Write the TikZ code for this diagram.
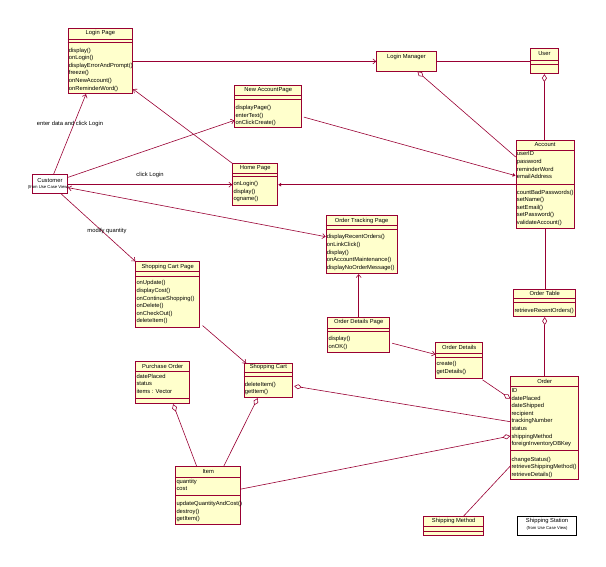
\documentclass[tikz,border=0pt]{standalone}
\usepackage{fontspec}
\setmainfont{Liberation Sans}
\usepackage{xcolor}
\usepackage{tikz}
\usetikzlibrary{arrows.meta,positioning,calc}

\definecolor{roseline}{RGB}{153,0,51}
\definecolor{rosefill}{RGB}{255,255,204}

\tikzset{
  classbox/.style={draw=roseline, fill=rosefill, line width=0.8pt, anchor=north west, inner sep=0pt},
  actorbox/.style={draw=roseline, fill=white, line width=0.8pt, anchor=north west, inner sep=0pt},
  stationbox/.style={draw=black, fill=white, line width=0.6pt, anchor=north west, inner sep=0pt},
  classtitle/.style={inner sep=0pt, font=\fontsize{5.8}{7}\selectfont},
  fromnote/.style={inner sep=0pt, font=\fontsize{4.2}{5}\selectfont},
  members/.style={anchor=north west, align=left, inner sep=0pt, font=\fontsize{5.8}{7.6}\selectfont},
  compline/.style={draw=roseline, line width=0.8pt},
  edgelabel/.style={inner sep=0pt, font=\fontsize{5.8}{7}\selectfont},
  assoc/.style={draw=roseline, line width=0.6pt},
  nav/.style={assoc, -{Straight Barb[length=3pt,width=5pt]}},
  navboth/.style={assoc, {Straight Barb[length=3pt,width=5pt]}-{Straight Barb[length=3pt,width=5pt]}},
  navfill/.style={assoc, -{Latex[length=3pt,width=4pt]}},
  aggr/.style={assoc, {Diamond[fill=white,length=8pt,width=5pt]}-},
  aggrend/.style={assoc, -{Diamond[fill=white,length=8pt,width=5pt]}}
}

\newcommand{\umlclass}[5]{\node[classbox, minimum width=#4pt, minimum height=#5pt] (#1) at (#2,#3) {};}
\newcommand{\umltitle}[3]{\node[classtitle] at ([yshift=-#2pt]#1.north) {#3};}
\newcommand{\umlsep}[2]{\draw[compline] ([yshift=-#2pt]#1.north west) -- ([yshift=-#2pt]#1.north east);}
\newcommand{\umlmembers}[3]{\node[members] at ([xshift=1pt,yshift=-#2pt]#1.north west) {#3};}

\begin{document}
\begin{tikzpicture}[x=1pt,y=-1pt]
    \useasboundingbox (0,0) rectangle (606,566);

    % classes
    \umlclass{loginpage}{67.7}{28.3}{64.6}{65}
    \umltitle{loginpage}{5}{Login Page}
    \umlsep{loginpage}{11}
    \umlsep{loginpage}{13.7}
    \umlmembers{loginpage}{19.4}{display()\\onLogin()\\displayErrorAndPrompt()\\freeze()\\onNewAccount()\\onReminderWord()}

    \umlclass{newaccount}{234.3}{85.3}{67}{42}
    \umltitle{newaccount}{4.7}{New AccountPage}
    \umlsep{newaccount}{10.4}
    \umlsep{newaccount}{13.7}
    \umlmembers{newaccount}{19.7}{displayPage()\\enterText()\\onClickCreate()}

    \umlclass{homepage}{232.3}{163.3}{45}{42}
    \umltitle{homepage}{5}{Home Page}
    \umlsep{homepage}{10}
    \umlsep{homepage}{13.4}
    \umlmembers{homepage}{18}{onLogin()\\display()\\ogname()}

    \node[actorbox, minimum width=35.6pt, minimum height=19.3pt] (customer) at (31.7,174) {};
    \node[classtitle] at ([yshift=-6pt]customer.north) {Customer};
    \node[fromnote] at ([xshift=-1.5pt,yshift=-13.3pt]customer.north) {(from Use Case View)};

    \umlclass{loginmgr}{376.3}{51.3}{59.4}{19.4}
    \umltitle{loginmgr}{5.7}{Login Manager}

    \umlclass{user}{530.3}{48.3}{27.4}{25}
    \umltitle{user}{5}{User}
    \umlsep{user}{12}
    \umlsep{user}{16}

    \umlclass{account}{515.7}{140.3}{58}{87.4}
    \umltitle{account}{4.7}{Account}
    \umlsep{account}{9.7}
    \umlmembers{account}{11.4}{userID\\password\\reminderWord\\emailAddress}
    \umlsep{account}{43.7}
    \umlmembers{account}{49.4}{countBadPasswords()\\setName()\\setEmail()\\setPassword()\\validateAccount()}

    \umlclass{ordertrack}{325.7}{215.3}{71}{58}
    \umltitle{ordertrack}{5.7}{Order Tracking Page}
    \umlsep{ordertrack}{10.4}
    \umlsep{ordertrack}{13.7}
    \umlmembers{ordertrack}{19.1}{displayRecentOrders()\\onLinkClick()\\display()\\onAccountMaintenance()\\displayNoOrderMessage()}

    \umlclass{cartpage}{135.3}{261.3}{64}{66}
    \umltitle{cartpage}{5.4}{Shopping Cart Page}
    \umlsep{cartpage}{10.4}
    \umlsep{cartpage}{15}
    \umlmembers{cartpage}{19.1}{onUpdate()\\displayCost()\\onContinueShopping()\\onDelete()\\onCheckOut()\\deleteItem()}

    \umlclass{ordertable}{513.3}{289.3}{62}{27}
    \umltitle{ordertable}{4.2}{Order Table}
    \umlsep{ordertable}{9}
    \umlsep{ordertable}{13}
    \umlmembers{ordertable}{18.4}{retrieveRecentOrders()}

    \umlclass{detailspage}{327.3}{317.3}{62}{35}
    \umltitle{detailspage}{5}{Order Details Page}
    \umlsep{detailspage}{10.7}
    \umlsep{detailspage}{14.4}
    \umlmembers{detailspage}{19.1}{display()\\onOK()}

    \umlclass{orderdetails}{435.3}{342.3}{47}{35.4}
    \umltitle{orderdetails}{5.4}{Order Details}
    \umlsep{orderdetails}{11}
    \umlsep{orderdetails}{14.7}
    \umlmembers{orderdetails}{19.1}{create()\\getDetails()}

    \umlclass{order}{510.3}{376}{68}{103}
    \umltitle{order}{5}{Order}
    \umlsep{order}{10.7}
    \umlmembers{order}{12.4}{ID\\datePlaced\\dateShipped\\recipient\\trackingNumber\\status\\shippingMethod\\foreignInventoryDBKey}
    \umlsep{order}{74}
    \umlmembers{order}{80.7}{changeStatus()\\retrieveShippingMethod()\\retrieveDetails()}

    \umlclass{shipmethod}{423.3}{516}{60}{19.3}
    \umltitle{shipmethod}{5}{Shipping Method}
    \umlsep{shipmethod}{10.7}
    \umlsep{shipmethod}{15.3}

    \node[stationbox, minimum width=59pt, minimum height=19.3pt] (station) at (517.3,516) {};
    \node[classtitle] at ([yshift=-5pt]station.north) {Shipping Station};
    \node[fromnote] at ([yshift=-12pt]station.north) {(from Use Case View)};

    \umlclass{purchase}{135.3}{361.3}{54}{42}
    \umltitle{purchase}{4.7}{Purchase Order}
    \umlsep{purchase}{10.4}
    \umlmembers{purchase}{12.4}{datePlaced\\status\\items : Vector}
    \umlsep{purchase}{37}

    \umlclass{cart}{243.7}{363.3}{48.6}{34}
    \umltitle{cart}{3.7}{Shopping Cart}
    \umlsep{cart}{9.4}
    \umlsep{cart}{13.4}
    \umlmembers{cart}{18.4}{deleteItem()\\getItem()}

    \umlclass{item}{175.3}{466.3}{65}{57.7}
    \umltitle{item}{5.7}{Item}
    \umlsep{item}{11}
    \umlmembers{item}{12.4}{quantity\\cost}
    \umlsep{item}{29.4}
    \umlmembers{item}{34.7}{updateQuantityAndCost()\\destroy()\\getItem()}

    % associations
    \draw[nav] (loginpage.east |- loginmgr.west) -- (loginmgr.west);
    \draw[assoc] (loginmgr.east) -- (loginmgr.east -| user.west);
    \draw[aggr] (user.south) -- (user.south |- account.north);
    \draw[aggr] ([xshift=11pt]loginmgr.south) -- ([yshift=-16.7pt]account.north west);
    \draw[navfill] ([xshift=1.7pt,yshift=-10.4pt]newaccount.east) -- ([yshift=-35.4pt]account.north west);
    \draw[navfill] (account.west |- homepage.east) -- (homepage.east);
    \draw[nav] (customer.east |- homepage.west) -- (homepage.west);
    \draw[nav] (homepage.north west) -- ([yshift=5pt]loginpage.south east);
    \draw[nav] ([xshift=3.8pt]customer.north) -- ([xshift=18.3pt]loginpage.south west);
    \draw[nav] ([yshift=-3.3pt]customer.north east) -- ([yshift=-13.7pt]newaccount.west);
    \draw[navboth] ([yshift=-3.6pt]customer.east) -- ([yshift=-21.4pt]ordertrack.north west);
    \draw[nav] ([xshift=11.5pt]customer.south) -- (cartpage.north west);
    \draw[nav] ([xshift=2.4pt,yshift=2.6pt]cartpage.south east) -- ([xshift=2.5pt]cart.north west);
    \draw[nav] (detailspage.north) -- (detailspage.north |- ordertrack.south);
    \draw[nav] ([xshift=2pt,yshift=-8pt]detailspage.east) -- ([yshift=6pt]orderdetails.west);
    \draw[assoc] (account.south) -- (account.south |- ordertable.north);
    \draw[aggr] (ordertable.south) -- (ordertable.south |- order.north);
    \draw[aggrend] ([xshift=-0.6pt,yshift=-1.3pt]orderdetails.south east) -- ([yshift=-22.7pt]order.north west);
    \draw[aggr] ([xshift=1pt,yshift=-5.4pt]cart.east) -- ([yshift=-45.7pt]order.north west);
    \draw[aggrend] ([yshift=6.5pt]item.east) -- ([yshift=-60pt]order.north west);
    \draw[aggr] ([xshift=10.4pt]purchase.south) -- ([xshift=21.4pt]item.north west);
    \draw[aggr] ([xshift=-10.7pt]cart.south) -- ([xshift=48.4pt]item.north west);
    \draw[assoc] ([xshift=10pt]shipmethod.north) -- ([yshift=-90pt]order.north west);

    \node[edgelabel] (lblenter) at (70,124.3) {enter data and click Login};
    \node[edgelabel] (lblclick) at (150,175) {click Login};
    \node[edgelabel] (lblmodify) at (107,231.3) {modify quantity};
\end{tikzpicture}
\end{document}
